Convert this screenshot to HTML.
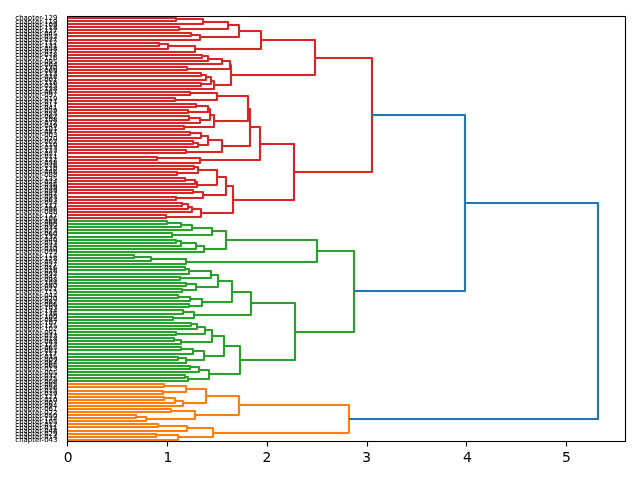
<!DOCTYPE html>
<html><head><meta charset="utf-8"><title>Dendrogram</title>
<style>html,body{margin:0;padding:0;background:#fff}svg{display:block}</style></head>
<body>
<svg width="640" height="480" viewBox="0 0 640 480">
<rect width="640" height="480" fill="#fff"/>
<defs><clipPath id="c"><rect x="67.097" y="16.161" width="557.903" height="425.117"/></clipPath></defs>
<g clip-path="url(#c)" fill="none" stroke-linejoin="miter" stroke-linecap="butt" stroke-width="4.0833" stroke-opacity="0.0417">
<path stroke="#d62728" d="M67 218 166 218 166 215 67 215"/>
<path stroke="#d62728" d="M67 206 182 206 182 203 67 203"/>
<path stroke="#d62728" d="M67 209 188 209 188 204 182 204"/>
<path stroke="#d62728" d="M67 212 192 212 192 207 188 207"/>
<path stroke="#d62728" d="M166 217 201 217 201 209 192 209"/>
<path stroke="#d62728" d="M67 200 176 200 176 197 67 197"/>
<path stroke="#d62728" d="M67 193 193 193 193 190 67 190"/>
<path stroke="#d62728" d="M176 198 203 198 203 192 193 192"/>
<path stroke="#d62728" d="M67 181 185 181 185 178 67 178"/>
<path stroke="#d62728" d="M67 184 195 184 195 180 185 180"/>
<path stroke="#d62728" d="M67 187 197 187 197 182 195 182"/>
<path stroke="#d62728" d="M67 175 177 175 177 172 67 172"/>
<path stroke="#d62728" d="M67 169 194 169 194 166 67 166"/>
<path stroke="#d62728" d="M177 173 198 173 198 167 194 167"/>
<path stroke="#d62728" d="M197 185 217 185 217 170 198 170"/>
<path stroke="#d62728" d="M203 195 226 195 226 177 217 177"/>
<path stroke="#d62728" d="M201 213 233 213 233 186 226 186"/>
<path stroke="#d62728" d="M67 160 157 160 157 157 67 157"/>
<path stroke="#d62728" d="M67 163 200 163 200 158 157 158"/>
<path stroke="#d62728" d="M67 153 186 153 186 150 67 150"/>
<path stroke="#d62728" d="M67 144 193 144 193 141 67 141"/>
<path stroke="#d62728" d="M67 147 198 147 198 143 193 143"/>
<path stroke="#d62728" d="M67 135 190 135 190 132 67 132"/>
<path stroke="#d62728" d="M67 138 201 138 201 133 190 133"/>
<path stroke="#d62728" d="M198 145 208 145 208 136 201 136"/>
<path stroke="#d62728" d="M186 152 222 152 222 140 208 140"/>
<path stroke="#d62728" d="M67 129 184 129 184 126 67 126"/>
<path stroke="#d62728" d="M67 120 189 120 189 116 67 116"/>
<path stroke="#d62728" d="M67 123 200 123 200 118 189 118"/>
<path stroke="#d62728" d="M67 113 188 113 188 110 67 110"/>
<path stroke="#d62728" d="M67 107 196 107 196 104 67 104"/>
<path stroke="#d62728" d="M188 112 208 112 208 106 196 106"/>
<path stroke="#d62728" d="M200 120 210 120 210 109 208 109"/>
<path stroke="#d62728" d="M184 127 214 127 214 115 210 115"/>
<path stroke="#d62728" d="M67 101 175 101 175 98 67 98"/>
<path stroke="#d62728" d="M67 95 190 95 190 92 67 92"/>
<path stroke="#d62728" d="M175 100 217 100 217 93 190 93"/>
<path stroke="#d62728" d="M214 121 248 121 248 96 217 96"/>
<path stroke="#d62728" d="M222 146 250 146 250 109 248 109"/>
<path stroke="#d62728" d="M200 160 260 160 260 127 250 127"/>
<path stroke="#d62728" d="M233 200 294 200 294 144 260 144"/>
<path stroke="#d62728" d="M67 86 201 86 201 83 67 83"/>
<path stroke="#d62728" d="M67 76 201 76 201 73 67 73"/>
<path stroke="#d62728" d="M67 80 206 80 206 75 201 75"/>
<path stroke="#d62728" d="M201 84 211 84 211 77 206 77"/>
<path stroke="#d62728" d="M67 89 214 89 214 81 211 81"/>
<path stroke="#d62728" d="M67 70 187 70 187 67 67 67"/>
<path stroke="#d62728" d="M67 58 202 58 202 55 67 55"/>
<path stroke="#d62728" d="M67 61 208 61 208 56 202 56"/>
<path stroke="#d62728" d="M67 64 222 64 222 59 208 59"/>
<path stroke="#d62728" d="M187 69 230 69 230 61 222 61"/>
<path stroke="#d62728" d="M214 85 231 85 231 65 230 65"/>
<path stroke="#d62728" d="M67 46 159 46 159 43 67 43"/>
<path stroke="#d62728" d="M67 49 168 49 168 44 159 44"/>
<path stroke="#d62728" d="M67 52 195 52 195 46 168 46"/>
<path stroke="#d62728" d="M67 36 191 36 191 33 67 33"/>
<path stroke="#d62728" d="M67 40 200 40 200 35 191 35"/>
<path stroke="#d62728" d="M67 30 179 30 179 27 67 27"/>
<path stroke="#d62728" d="M67 21 176 21 176 18 67 18"/>
<path stroke="#d62728" d="M67 24 203 24 203 19 176 19"/>
<path stroke="#d62728" d="M179 29 228 29 228 22 203 22"/>
<path stroke="#d62728" d="M200 37 239 37 239 25 228 25"/>
<path stroke="#d62728" d="M195 49 261 49 261 31 239 31"/>
<path stroke="#d62728" d="M231 75 315 75 315 40 261 40"/>
<path stroke="#d62728" d="M294 172 372 172 372 58 315 58"/>
<path stroke="#2ca02c" d="M67 378 185 378 185 375 67 375"/>
<path stroke="#2ca02c" d="M67 381 188 381 188 377 185 377"/>
<path stroke="#2ca02c" d="M67 369 190 369 190 366 67 366"/>
<path stroke="#2ca02c" d="M67 372 199 372 199 367 190 367"/>
<path stroke="#2ca02c" d="M188 379 209 379 209 370 199 370"/>
<path stroke="#2ca02c" d="M67 360 178 360 178 357 67 357"/>
<path stroke="#2ca02c" d="M67 363 186 363 186 358 178 358"/>
<path stroke="#2ca02c" d="M67 350 181 350 181 347 67 347"/>
<path stroke="#2ca02c" d="M67 354 193 354 193 349 181 349"/>
<path stroke="#2ca02c" d="M186 360 204 360 204 351 193 351"/>
<path stroke="#2ca02c" d="M67 341 174 341 174 338 67 338"/>
<path stroke="#2ca02c" d="M67 344 181 344 181 340 174 340"/>
<path stroke="#2ca02c" d="M67 335 176 335 176 332 67 332"/>
<path stroke="#2ca02c" d="M67 326 191 326 191 323 67 323"/>
<path stroke="#2ca02c" d="M67 329 197 329 197 324 191 324"/>
<path stroke="#2ca02c" d="M176 334 205 334 205 327 197 327"/>
<path stroke="#2ca02c" d="M181 342 212 342 212 330 205 330"/>
<path stroke="#2ca02c" d="M204 356 224 356 224 336 212 336"/>
<path stroke="#2ca02c" d="M209 374 240 374 240 346 224 346"/>
<path stroke="#2ca02c" d="M67 320 173 320 173 317 67 317"/>
<path stroke="#2ca02c" d="M67 314 183 314 183 310 67 310"/>
<path stroke="#2ca02c" d="M173 318 194 318 194 312 183 312"/>
<path stroke="#2ca02c" d="M67 307 189 307 189 304 67 304"/>
<path stroke="#2ca02c" d="M67 298 178 298 178 295 67 295"/>
<path stroke="#2ca02c" d="M67 301 190 301 190 297 178 297"/>
<path stroke="#2ca02c" d="M189 306 202 306 202 299 190 299"/>
<path stroke="#2ca02c" d="M67 292 182 292 182 289 67 289"/>
<path stroke="#2ca02c" d="M67 286 186 286 186 283 67 283"/>
<path stroke="#2ca02c" d="M182 290 196 290 196 284 186 284"/>
<path stroke="#2ca02c" d="M67 280 180 280 180 277 67 277"/>
<path stroke="#2ca02c" d="M67 270 185 270 185 267 67 267"/>
<path stroke="#2ca02c" d="M67 274 189 274 189 269 185 269"/>
<path stroke="#2ca02c" d="M180 278 211 278 211 271 189 271"/>
<path stroke="#2ca02c" d="M196 287 218 287 218 275 211 275"/>
<path stroke="#2ca02c" d="M202 302 232 302 232 281 218 281"/>
<path stroke="#2ca02c" d="M194 315 251 315 251 292 232 292"/>
<path stroke="#2ca02c" d="M240 360 295 360 295 303 251 303"/>
<path stroke="#2ca02c" d="M67 258 134 258 134 255 67 255"/>
<path stroke="#2ca02c" d="M67 261 151 261 151 257 134 257"/>
<path stroke="#2ca02c" d="M67 264 186 264 186 259 151 259"/>
<path stroke="#2ca02c" d="M67 243 176 243 176 240 67 240"/>
<path stroke="#2ca02c" d="M67 246 181 246 181 241 176 241"/>
<path stroke="#2ca02c" d="M67 249 196 249 196 243 181 243"/>
<path stroke="#2ca02c" d="M67 252 204 252 204 246 196 246"/>
<path stroke="#2ca02c" d="M67 237 172 237 172 233 67 233"/>
<path stroke="#2ca02c" d="M67 224 167 224 167 221 67 221"/>
<path stroke="#2ca02c" d="M67 227 181 227 181 223 167 223"/>
<path stroke="#2ca02c" d="M67 230 192 230 192 225 181 225"/>
<path stroke="#2ca02c" d="M172 235 212 235 212 228 192 228"/>
<path stroke="#2ca02c" d="M204 249 226 249 226 231 212 231"/>
<path stroke="#2ca02c" d="M186 262 317 262 317 240 226 240"/>
<path stroke="#2ca02c" d="M295 332 354 332 354 251 317 251"/>
<path stroke="#ff7f0e" d="M67 437 156 437 156 434 67 434"/>
<path stroke="#ff7f0e" d="M67 440 178 440 178 435 156 435"/>
<path stroke="#ff7f0e" d="M67 427 158 427 158 424 67 424"/>
<path stroke="#ff7f0e" d="M67 431 187 431 187 426 158 426"/>
<path stroke="#ff7f0e" d="M178 437 213 437 213 428 187 428"/>
<path stroke="#ff7f0e" d="M67 418 136 418 136 415 67 415"/>
<path stroke="#ff7f0e" d="M67 421 146 421 146 417 136 417"/>
<path stroke="#ff7f0e" d="M67 412 171 412 171 409 67 409"/>
<path stroke="#ff7f0e" d="M146 419 195 419 195 411 171 411"/>
<path stroke="#ff7f0e" d="M67 400 164 400 164 397 67 397"/>
<path stroke="#ff7f0e" d="M67 403 175 403 175 398 164 398"/>
<path stroke="#ff7f0e" d="M67 406 183 406 183 401 175 401"/>
<path stroke="#ff7f0e" d="M67 394 163 394 163 391 67 391"/>
<path stroke="#ff7f0e" d="M67 387 164 387 164 384 67 384"/>
<path stroke="#ff7f0e" d="M163 392 186 392 186 386 164 386"/>
<path stroke="#ff7f0e" d="M183 403 206 403 206 389 186 389"/>
<path stroke="#ff7f0e" d="M195 415 239 415 239 396 206 396"/>
<path stroke="#ff7f0e" d="M213 433 349 433 349 405 239 405"/>
<path stroke="#1f77b4" d="M354 291 465 291 465 115 372 115"/>
<path stroke="#1f77b4" d="M349 419 598 419 598 203 465 203"/>
</g>
<g clip-path="url(#c)" fill="none" stroke-linejoin="round" stroke-linecap="butt" stroke-width="2.0833">
<path stroke="#d62728" d="M67 218 166 218 166 215 67 215M67 206 182 206 182 203 67 203M67 209 188 209 188 204 182 204M67 212 192 212 192 207 188 207M166 217 201 217 201 209 192 209M67 200 176 200 176 197 67 197M67 193 193 193 193 190 67 190M176 198 203 198 203 192 193 192M67 181 185 181 185 178 67 178M67 184 195 184 195 180 185 180M67 187 197 187 197 182 195 182M67 175 177 175 177 172 67 172M67 169 194 169 194 166 67 166M177 173 198 173 198 167 194 167M197 185 217 185 217 170 198 170M203 195 226 195 226 177 217 177M201 213 233 213 233 186 226 186M67 160 157 160 157 157 67 157M67 163 200 163 200 158 157 158M67 153 186 153 186 150 67 150M67 144 193 144 193 141 67 141M67 147 198 147 198 143 193 143M67 135 190 135 190 132 67 132M67 138 201 138 201 133 190 133M198 145 208 145 208 136 201 136M186 152 222 152 222 140 208 140M67 129 184 129 184 126 67 126M67 120 189 120 189 116 67 116M67 123 200 123 200 118 189 118M67 113 188 113 188 110 67 110M67 107 196 107 196 104 67 104M188 112 208 112 208 106 196 106M200 120 210 120 210 109 208 109M184 127 214 127 214 115 210 115M67 101 175 101 175 98 67 98M67 95 190 95 190 92 67 92M175 100 217 100 217 93 190 93M214 121 248 121 248 96 217 96M222 146 250 146 250 109 248 109M200 160 260 160 260 127 250 127M233 200 294 200 294 144 260 144M67 86 201 86 201 83 67 83M67 76 201 76 201 73 67 73M67 80 206 80 206 75 201 75M201 84 211 84 211 77 206 77M67 89 214 89 214 81 211 81M67 70 187 70 187 67 67 67M67 58 202 58 202 55 67 55M67 61 208 61 208 56 202 56M67 64 222 64 222 59 208 59M187 69 230 69 230 61 222 61M214 85 231 85 231 65 230 65M67 46 159 46 159 43 67 43M67 49 168 49 168 44 159 44M67 52 195 52 195 46 168 46M67 36 191 36 191 33 67 33M67 40 200 40 200 35 191 35M67 30 179 30 179 27 67 27M67 21 176 21 176 18 67 18M67 24 203 24 203 19 176 19M179 29 228 29 228 22 203 22M200 37 239 37 239 25 228 25M195 49 261 49 261 31 239 31M231 75 315 75 315 40 261 40M294 172 372 172 372 58 315 58"/>
<path stroke="#2ca02c" d="M67 378 185 378 185 375 67 375M67 381 188 381 188 377 185 377M67 369 190 369 190 366 67 366M67 372 199 372 199 367 190 367M188 379 209 379 209 370 199 370M67 360 178 360 178 357 67 357M67 363 186 363 186 358 178 358M67 350 181 350 181 347 67 347M67 354 193 354 193 349 181 349M186 360 204 360 204 351 193 351M67 341 174 341 174 338 67 338M67 344 181 344 181 340 174 340M67 335 176 335 176 332 67 332M67 326 191 326 191 323 67 323M67 329 197 329 197 324 191 324M176 334 205 334 205 327 197 327M181 342 212 342 212 330 205 330M204 356 224 356 224 336 212 336M209 374 240 374 240 346 224 346M67 320 173 320 173 317 67 317M67 314 183 314 183 310 67 310M173 318 194 318 194 312 183 312M67 307 189 307 189 304 67 304M67 298 178 298 178 295 67 295M67 301 190 301 190 297 178 297M189 306 202 306 202 299 190 299M67 292 182 292 182 289 67 289M67 286 186 286 186 283 67 283M182 290 196 290 196 284 186 284M67 280 180 280 180 277 67 277M67 270 185 270 185 267 67 267M67 274 189 274 189 269 185 269M180 278 211 278 211 271 189 271M196 287 218 287 218 275 211 275M202 302 232 302 232 281 218 281M194 315 251 315 251 292 232 292M240 360 295 360 295 303 251 303M67 258 134 258 134 255 67 255M67 261 151 261 151 257 134 257M67 264 186 264 186 259 151 259M67 243 176 243 176 240 67 240M67 246 181 246 181 241 176 241M67 249 196 249 196 243 181 243M67 252 204 252 204 246 196 246M67 237 172 237 172 233 67 233M67 224 167 224 167 221 67 221M67 227 181 227 181 223 167 223M67 230 192 230 192 225 181 225M172 235 212 235 212 228 192 228M204 249 226 249 226 231 212 231M186 262 317 262 317 240 226 240M295 332 354 332 354 251 317 251"/>
<path stroke="#ff7f0e" d="M67 437 156 437 156 434 67 434M67 440 178 440 178 435 156 435M67 427 158 427 158 424 67 424M67 431 187 431 187 426 158 426M178 437 213 437 213 428 187 428M67 418 136 418 136 415 67 415M67 421 146 421 146 417 136 417M67 412 171 412 171 409 67 409M146 419 195 419 195 411 171 411M67 400 164 400 164 397 67 397M67 403 175 403 175 398 164 398M67 406 183 406 183 401 175 401M67 394 163 394 163 391 67 391M67 387 164 387 164 384 67 384M163 392 186 392 186 386 164 386M183 403 206 403 206 389 186 389M195 415 239 415 239 396 206 396M213 433 349 433 349 405 239 405"/>
<path stroke="#1f77b4" d="M354 291 465 291 465 115 372 115M349 419 598 419 598 203 465 203"/>
</g>
<path d="M67.5 441.5H625.5M67.5 16.5H625.5" fill="none" stroke="#000" stroke-width="3" stroke-opacity="0.0556" stroke-linecap="butt"/>
<path d="M67.5 441.5V16.5M625.5 441.5V16.5M67.5 441.5H625.5M67.5 16.5H625.5" fill="none" stroke="#000" stroke-width="1.1111" stroke-linecap="square"/>
<path d="M67.5 441.5V446.5M167.5 441.5V446.5M267.5 441.5V446.5M367.5 441.5V446.5M466.5 441.5V446.5M566.5 441.5V446.5" stroke="#000" stroke-width="1.1111" fill="none"/>
<g font-family="'DejaVu Sans', 'Liberation Sans', sans-serif" fill="#000">
<g font-size="13.8889" text-anchor="middle">
<text x="68.10" y="462">0</text>
<text x="167.95" y="462">1</text>
<text x="266.80" y="462">2</text>
<text x="366.65" y="462">3</text>
<text x="467.50" y="462">4</text>
<text x="566.35" y="462">5</text>
</g>
<g font-size="6.9444" text-anchor="end" stroke="#000" stroke-width="0.04">
<text x="57.38" y="442">chapter-043</text>
<text x="57.38" y="439">chapter-014</text>
<text x="57.38" y="436">chapter-029</text>
<text x="57.38" y="433">chapter-048</text>
<text x="57.38" y="430">chapter-031</text>
<text x="57.38" y="427">chapter-012</text>
<text x="57.38" y="424">chapter-105</text>
<text x="57.38" y="421">chapter-124</text>
<text x="57.38" y="418">chapter-050</text>
<text x="57.38" y="415">chapter-022</text>
<text x="57.38" y="411">chapter-061</text>
<text x="57.38" y="408">chapter-094</text>
<text x="57.38" y="405">chapter-007</text>
<text x="57.38" y="402">chapter-010</text>
<text x="57.38" y="399">chapter-121</text>
<text x="57.38" y="396">chapter-079</text>
<text x="57.38" y="393">chapter-015</text>
<text x="57.38" y="390">chapter-056</text>
<text x="57.38" y="387">chapter-085</text>
<text x="57.38" y="384">chapter-008</text>
<text x="57.38" y="381">chapter-075</text>
<text x="57.38" y="378">chapter-032</text>
<text x="57.38" y="375">chapter-005</text>
<text x="57.38" y="371">chapter-013</text>
<text x="57.38" y="368">chapter-066</text>
<text x="57.38" y="365">chapter-064</text>
<text x="57.38" y="362">chapter-009</text>
<text x="57.38" y="359">chapter-035</text>
<text x="57.38" y="356">chapter-117</text>
<text x="57.38" y="353">chapter-081</text>
<text x="57.38" y="350">chapter-065</text>
<text x="57.38" y="347">chapter-123</text>
<text x="57.38" y="344">chapter-083</text>
<text x="57.38" y="341">chapter-018</text>
<text x="57.38" y="338">chapter-033</text>
<text x="57.38" y="335">chapter-091</text>
<text x="57.38" y="331">chapter-102</text>
<text x="57.38" y="328">chapter-125</text>
<text x="57.38" y="325">chapter-107</text>
<text x="57.38" y="322">chapter-084</text>
<text x="57.38" y="319">chapter-100</text>
<text x="57.38" y="316">chapter-136</text>
<text x="57.38" y="313">chapter-134</text>
<text x="57.38" y="310">chapter-103</text>
<text x="57.38" y="307">chapter-006</text>
<text x="57.38" y="304">chapter-082</text>
<text x="57.38" y="301">chapter-020</text>
<text x="57.38" y="298">chapter-044</text>
<text x="57.38" y="294">chapter-115</text>
<text x="57.38" y="291">chapter-021</text>
<text x="57.38" y="288">chapter-080</text>
<text x="57.38" y="285">chapter-104</text>
<text x="57.38" y="282">chapter-098</text>
<text x="57.38" y="279">chapter-047</text>
<text x="57.38" y="276">chapter-092</text>
<text x="57.38" y="273">chapter-026</text>
<text x="57.38" y="270">chapter-016</text>
<text x="57.38" y="267">chapter-027</text>
<text x="57.38" y="264">chapter-057</text>
<text x="57.38" y="261">chapter-128</text>
<text x="57.38" y="258">chapter-114</text>
<text x="57.38" y="254">chapter-099</text>
<text x="57.38" y="251">chapter-030</text>
<text x="57.38" y="248">chapter-074</text>
<text x="57.38" y="245">chapter-053</text>
<text x="57.38" y="242">chapter-040</text>
<text x="57.38" y="239">chapter-132</text>
<text x="57.38" y="236">chapter-060</text>
<text x="57.38" y="233">chapter-023</text>
<text x="57.38" y="230">chapter-034</text>
<text x="57.38" y="227">chapter-090</text>
<text x="57.38" y="224">chapter-068</text>
<text x="57.38" y="221">chapter-106</text>
<text x="57.38" y="218">chapter-137</text>
<text x="57.38" y="214">chapter-086</text>
<text x="57.38" y="211">chapter-096</text>
<text x="57.38" y="208">chapter-111</text>
<text x="57.38" y="205">chapter-054</text>
<text x="57.38" y="202">chapter-063</text>
<text x="57.38" y="199">chapter-093</text>
<text x="57.38" y="196">chapter-042</text>
<text x="57.38" y="193">chapter-089</text>
<text x="57.38" y="190">chapter-039</text>
<text x="57.38" y="187">chapter-036</text>
<text x="57.38" y="184">chapter-024</text>
<text x="57.38" y="181">chapter-135</text>
<text x="57.38" y="177">chapter-088</text>
<text x="57.38" y="174">chapter-046</text>
<text x="57.38" y="171">chapter-120</text>
<text x="57.38" y="168">chapter-076</text>
<text x="57.38" y="165">chapter-038</text>
<text x="57.38" y="162">chapter-122</text>
<text x="57.38" y="159">chapter-011</text>
<text x="57.38" y="156">chapter-051</text>
<text x="57.38" y="153">chapter-133</text>
<text x="57.38" y="150">chapter-073</text>
<text x="57.38" y="147">chapter-110</text>
<text x="57.38" y="144">chapter-002</text>
<text x="57.38" y="141">chapter-070</text>
<text x="57.38" y="137">chapter-003</text>
<text x="57.38" y="134">chapter-087</text>
<text x="57.38" y="131">chapter-101</text>
<text x="57.38" y="128">chapter-049</text>
<text x="57.38" y="125">chapter-072</text>
<text x="57.38" y="122">chapter-108</text>
<text x="57.38" y="119">chapter-062</text>
<text x="57.38" y="116">chapter-055</text>
<text x="57.38" y="113">chapter-059</text>
<text x="57.38" y="110">chapter-041</text>
<text x="57.38" y="107">chapter-017</text>
<text x="57.38" y="104">chapter-071</text>
<text x="57.38" y="101">chapter-019</text>
<text x="57.38" y="97">chapter-097</text>
<text x="57.38" y="94">chapter-067</text>
<text x="57.38" y="91">chapter-138</text>
<text x="57.38" y="88">chapter-025</text>
<text x="57.38" y="85">chapter-116</text>
<text x="57.38" y="82">chapter-001</text>
<text x="57.38" y="79">chapter-028</text>
<text x="57.38" y="76">chapter-113</text>
<text x="57.38" y="73">chapter-069</text>
<text x="57.38" y="70">chapter-130</text>
<text x="57.38" y="67">chapter-004</text>
<text x="57.38" y="64">chapter-095</text>
<text x="57.38" y="60">chapter-126</text>
<text x="57.38" y="57">chapter-078</text>
<text x="57.38" y="54">chapter-077</text>
<text x="57.38" y="51">chapter-058</text>
<text x="57.38" y="48">chapter-131</text>
<text x="57.38" y="45">chapter-112</text>
<text x="57.38" y="42">chapter-037</text>
<text x="57.38" y="39">chapter-052</text>
<text x="57.38" y="36">chapter-045</text>
<text x="57.38" y="33">chapter-127</text>
<text x="57.38" y="30">chapter-118</text>
<text x="57.38" y="27">chapter-109</text>
<text x="57.38" y="24">chapter-119</text>
<text x="57.38" y="20">chapter-129</text>
</g></g>
</svg>
</body></html>
